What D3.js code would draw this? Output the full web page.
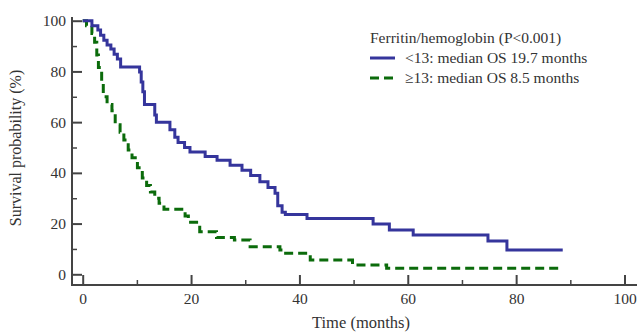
<!DOCTYPE html>
<html>
<head>
<meta charset="utf-8">
<script src="https://cdn.jsdelivr.net/npm/d3@7"></script>
<style>
  body { margin: 0; background: #fff; }
  svg text { font-family: "Liberation Serif", "DejaVu Serif", serif; fill: #333; }
</style>
</head>
<body>
<div id="chart"></div>
<script>
// Kaplan-Meier steps: [time (months), survival (%)] after each drop
const lowGroup = [
  [0, 100], [1.7, 98], [2.8, 96.3], [3.3, 94.3], [3.9, 92.3], [4.5, 90.4], [5.2, 88.8],
  [5.8, 86.8], [6.4, 84.9], [7.0, 81.7], [10.5, 79.8], [10.8, 75.8], [11.1, 72], [11.4, 67],
  [13.3, 62.8], [13.6, 60], [16.1, 57], [17, 54], [17.6, 52], [18.8, 50], [19.8, 48.2],
  [22.6, 46.5], [24.8, 45], [27.2, 43], [29.4, 41], [31, 39], [32.7, 36.5], [34.2, 34.2],
  [35.5, 32], [36, 27], [36.8, 24.5], [37.4, 23.6], [41.4, 22], [53.6, 19.8], [56.6, 17.5],
  [61, 15.5], [74.8, 13.1], [78.3, 9.6], [88.6, 9.6]
];
const highGroup = [
  [0, 100], [0.7, 98], [1.7, 95], [2.2, 91.5], [2.6, 86.5], [2.9, 81.5], [3.5, 76],
  [3.8, 70], [4.5, 67], [5.4, 64.5], [6.0, 59], [6.9, 56], [7.6, 53], [8.4, 49], [9.1, 46],
  [10.1, 42], [11.0, 38], [11.8, 35], [12.5, 32.5], [13.3, 30], [14.1, 28], [15.0, 25.7],
  [18.9, 23], [19.5, 20.5], [21.6, 16.8], [24.7, 14.5], [28, 13.5], [30.9, 10.9],
  [36.4, 9.6], [37, 8.3], [42, 5.6], [49.8, 3.7], [56.1, 2.4], [88.6, 2.4]
];
const xTicks = [0, 20, 40, 60, 80, 100];
const xMinor = [10, 30, 50, 70, 90];
const yTicks = [0, 20, 40, 60, 80, 100];
const yMinor = [10, 30, 50, 70, 90];
const legendTitle = "Ferritin/hemoglobin (P<0.001)";
const seriesLabels = ["<13: median OS 19.7 months", "\u226513: median OS 8.5 months"];

const width = 637, height = 333;
const blue = "#35359c", green = "#0b6b0b";

const svg = d3.select("#chart").append("svg")
    .attr("width", width)
    .attr("height", height);

const x = d3.scaleLinear().domain([0, 100]).range([82.7, 624.5]);
const y = d3.scaleLinear().domain([0, 100]).range([274.3, 20.7]);

const axisX = 72, axisY = 285;

// axis lines
svg.append("line")
    .attr("x1", axisX).attr("x2", axisX)
    .attr("y1", 17).attr("y2", axisY)
    .attr("stroke", "#444").attr("stroke-width", 2);
svg.append("line")
    .attr("x1", axisX - 1).attr("x2", 637)
    .attr("y1", axisY).attr("y2", axisY)
    .attr("stroke", "#444").attr("stroke-width", 2);

// x axis
let gx = svg.append("g")
    .attr("transform", `translate(0,${axisY})`)
    .call(d3.axisBottom(x).tickValues(xTicks).tickSize(-10).tickPadding(8));
gx.select(".domain").remove();
gx.selectAll("line").attr("stroke", "#444").attr("stroke-width", 2);
gx.selectAll("text").attr("font-size", 15.5).attr("fill", "#333");

let gxm = svg.append("g")
    .attr("transform", `translate(0,${axisY})`)
    .call(d3.axisBottom(x).tickValues(xMinor).tickSize(-5).tickFormat(""));
gxm.select(".domain").remove();
gxm.selectAll("line").attr("stroke", "#444").attr("stroke-width", 1.5);

// y axis
let gy = svg.append("g")
    .attr("transform", `translate(${axisX},0)`)
    .call(d3.axisLeft(y).tickValues(yTicks).tickSize(-10).tickPadding(6));
gy.select(".domain").remove();
gy.selectAll("line").attr("stroke", "#444").attr("stroke-width", 2);
gy.selectAll("text").attr("font-size", 15.5).attr("fill", "#333");

let gym = svg.append("g")
    .attr("transform", `translate(${axisX},0)`)
    .call(d3.axisLeft(y).tickValues(yMinor).tickSize(-5).tickFormat(""));
gym.select(".domain").remove();
gym.selectAll("line").attr("stroke", "#444").attr("stroke-width", 1.5);

// axis titles
svg.append("text")
    .attr("transform", "translate(21,148) rotate(-90)")
    .attr("text-anchor", "middle")
    .attr("font-size", 16)
    .text("Survival probability (%)");
svg.append("text")
    .attr("x", 361).attr("y", 328)
    .attr("text-anchor", "middle")
    .attr("font-size", 16.5)
    .text("Time (months)");

// curves
const line = d3.line()
    .x(d => x(d[0]))
    .y(d => y(d[1]))
    .curve(d3.curveStepAfter);

svg.append("path")
    .datum(highGroup)
    .attr("d", line)
    .attr("fill", "none")
    .attr("stroke", green)
    .attr("stroke-width", 3)
    .attr("stroke-dasharray", "9,5");

svg.append("path")
    .datum(lowGroup)
    .attr("d", line)
    .attr("fill", "none")
    .attr("stroke", blue)
    .attr("stroke-width", 3);

// legend
const legend = svg.append("g");
legend.append("text")
    .attr("x", 370).attr("y", 43)
    .attr("font-size", 15.5)
    .text(legendTitle);

legend.append("line")
    .attr("x1", 370).attr("x2", 395)
    .attr("y1", 58).attr("y2", 58)
    .attr("stroke", blue).attr("stroke-width", 3);
legend.append("line")
    .attr("x1", 370).attr("x2", 395)
    .attr("y1", 78).attr("y2", 78)
    .attr("stroke", green).attr("stroke-width", 3)
    .attr("stroke-dasharray", "9,5");

legend.selectAll("text.item")
    .data(seriesLabels)
    .enter().append("text")
    .attr("class", "item")
    .attr("x", 405)
    .attr("y", (d, i) => 63 + i * 20)
    .attr("font-size", 15.5)
    .text(d => d);
</script>
</body>
</html>
